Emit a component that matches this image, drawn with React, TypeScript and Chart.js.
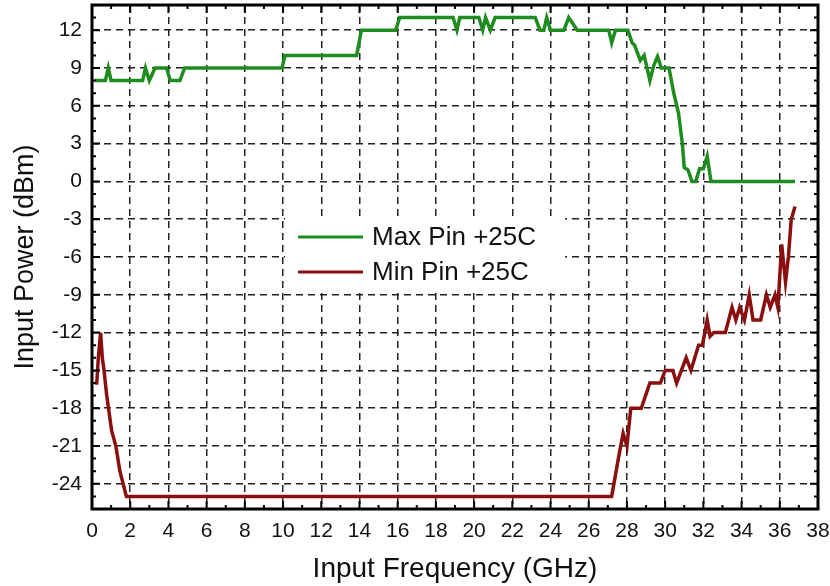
import React, { useEffect, useRef } from "react";
import { Chart, registerables } from "chart.js";

Chart.register(...registerables);

// ---- Data ----
const maxFreq = [
  0.15, 0.7, 0.85, 1.0, 2.65, 2.8, 3.0, 3.3, 3.9, 4.1, 4.6, 4.85, 9.95, 10.1, 13.85, 14.1,
  15.9, 16.1, 18.9, 19.1, 19.25, 20.25, 20.45, 20.6, 20.85, 21.1, 23.2, 23.45, 23.65,
  23.8, 24.0, 24.7, 24.95, 25.4, 27.05, 27.2, 27.4, 28.05, 28.27, 28.4, 28.7, 28.9,
  29.2, 29.4, 29.6, 29.8, 30.2, 30.45, 30.7, 30.9, 31.0, 31.2, 31.4, 31.6, 31.8, 32.0,
  32.2, 32.4, 36.8,
];
const maxPin = [
  8, 8, 9, 8, 8, 9, 8, 9, 9, 8, 8, 9, 9, 10, 10, 12,
  12, 13, 13, 12, 13, 13, 12, 13, 12, 13, 13, 12, 12,
  13, 12, 12, 13, 12, 12, 11, 12, 12, 11, 10.8, 9.6, 10,
  8, 9.2, 9.9, 9, 9, 7, 5.4, 3, 1.1, 0.9, 0, 0, 1, 1,
  2, 0, 0,
];
const minFreq = [
  0.15, 0.25, 0.33, 0.45, 0.54, 0.63, 0.77, 1.03, 1.25, 1.46, 1.8, 27.2, 27.55, 27.8, 28.0,
  28.2, 28.75, 29.2, 29.75, 30.0, 30.4, 30.6, 30.85, 31.1, 31.35, 31.55, 31.75, 31.95,
  32.2, 32.35, 32.55, 33.15, 33.5, 33.7, 33.9, 34.15, 34.4, 34.6, 35.0, 35.3, 35.5,
  35.75, 35.9, 36.1, 36.3, 36.45, 36.6, 36.8,
];
const minPin = [
  -16, -16, -14, -12, -14, -15, -17, -19.8, -21, -23, -25, -25, -22, -20, -21,
  -18, -18, -16, -16, -15, -15, -16, -15, -14, -15, -14, -13, -13,
  -11, -12.3, -12, -12, -10, -11, -10, -11, -9, -11, -11, -9, -10,
  -9, -10, -5, -8, -6, -3, -2,
];
const xTicks = [0, 2, 4, 6, 8, 10, 12, 14, 16, 18, 20, 22, 24, 26, 28, 30, 32, 34, 36, 38];
const yTicks = [-24, -21, -18, -15, -12, -9, -6, -3, 0, 3, 6, 9, 12];
const seriesLabels = ["Max Pin +25C", "Min Pin +25C"];
const seriesColors = ["#1e8c1e", "#8a1010"];
const xTitle = "Input Frequency (GHz)";
const yTitle = "Input Power (dBm)";

const FONT = "'Liberation Sans', Arial, sans-serif";

const framePlugin = {
  id: "frame",
  afterDatasetsDraw(chart: any) {
    const { ctx, chartArea: ca, scales } = chart;
    const xs = scales.x;
    const ys = scales.y;
    ctx.save();
    ctx.strokeStyle = "#000";
    ctx.lineWidth = 2;
    ctx.beginPath();
    for (let v = 0; v <= 38; v++) {
      const px = xs.getPixelForValue(v);
      const len = v % 2 === 0 ? 8 : 4;
      ctx.moveTo(px, ca.bottom);
      ctx.lineTo(px, ca.bottom - len);
      ctx.moveTo(px, ca.top);
      ctx.lineTo(px, ca.top + len);
    }
    for (let v = -26; v <= 14; v++) {
      const py = ys.getPixelForValue(v);
      const len = yTicks.includes(v) ? 8 : 4;
      ctx.moveTo(ca.left, py);
      ctx.lineTo(ca.left + len, py);
      ctx.moveTo(ca.right, py);
      ctx.lineTo(ca.right - len, py);
    }
    ctx.stroke();
    ctx.lineWidth = 3;
    ctx.strokeRect(ca.left, ca.top, ca.right - ca.left, ca.bottom - ca.top);
    ctx.restore();
  },
};

const legendPlugin = {
  id: "innerLegend",
  afterDraw(chart: any) {
    const { ctx, chartArea: ca } = chart;
    const bx = ca.left + 193;
    const by = ca.top + 213;
    ctx.save();
    ctx.fillStyle = "#fff";
    ctx.fillRect(bx, by, 280, 72);
    chart.data.datasets.forEach((ds: any, i: number) => {
      const y = by + 19 + i * 35;
      ctx.strokeStyle = ds.borderColor;
      ctx.lineWidth = 3;
      ctx.beginPath();
      ctx.moveTo(bx + 13, y);
      ctx.lineTo(bx + 78, y);
      ctx.stroke();
      ctx.fillStyle = "#111";
      ctx.font = `26px ${FONT}`;
      ctx.textBaseline = "middle";
      ctx.textAlign = "left";
      ctx.fillText(ds.label, bx + 87, y + 1);
    });
    ctx.restore();
  },
};

export default function App() {
  const ref = useRef<HTMLCanvasElement | null>(null);
  useEffect(() => {
    if (!ref.current) return;
    const chart = new Chart(ref.current, {
      type: "line",
      data: {
        datasets: [
          {
            label: seriesLabels[0],
            data: maxFreq.map((x, i) => ({ x, y: maxPin[i] })),
            borderColor: seriesColors[0],
            backgroundColor: seriesColors[0],
            borderWidth: 3.5,
            pointRadius: 0,
            tension: 0,
          },
          {
            label: seriesLabels[1],
            data: minFreq.map((x, i) => ({ x, y: minPin[i] })),
            borderColor: seriesColors[1],
            backgroundColor: seriesColors[1],
            borderWidth: 3.5,
            pointRadius: 0,
            tension: 0,
          },
        ],
      },
      options: {
        responsive: false,
        animation: false,
        devicePixelRatio: 1,
        layout: { padding: { top: 5, right: 12, left: 0, bottom: 0 } },
        plugins: { legend: { display: false }, tooltip: { enabled: false } },
        scales: {
          x: {
            type: "linear",
            min: 0,
            max: 38,
            afterBuildTicks: (s: any) => {
              s.ticks = xTicks.map((v) => ({ value: v }));
            },
            afterFit: (s: any) => {
              s.height = 77;
              s.paddingLeft = 0;
              s.paddingRight = 0;
            },
            ticks: {
              color: "#111",
              padding: 10,
              maxRotation: 0,
              autoSkip: false,
              font: { family: FONT, size: 21 },
            },
            grid: { color: "#222", lineWidth: 1.5, drawTicks: false, tickLength: 0 },
            border: { display: false, dash: [7, 5] },
            title: {
              display: true,
              text: xTitle,
              color: "#111",
              font: { family: FONT, size: 28 },
              padding: { top: 2, bottom: 0 },
            },
          },
          y: {
            type: "linear",
            min: -26,
            max: 14,
            afterBuildTicks: (s: any) => {
              s.ticks = yTicks.map((v) => ({ value: v }));
            },
            afterFit: (s: any) => {
              s.width = 92;
              s.paddingTop = 0;
              s.paddingBottom = 0;
            },
            ticks: {
              color: "#111",
              padding: 10,
              autoSkip: false,
              font: { family: FONT, size: 21 },
            },
            grid: { color: "#222", lineWidth: 1.5, drawTicks: false, tickLength: 0 },
            border: { display: false, dash: [7, 5] },
            title: {
              display: true,
              text: yTitle,
              color: "#111",
              font: { family: FONT, size: 27 },
              padding: { top: 9, bottom: 2 },
            },
          },
        },
      },
      plugins: [framePlugin, legendPlugin],
    } as any);
    return () => chart.destroy();
  }, []);
  return (
    <div style={{ position: "fixed", left: 0, top: 0, width: 830, height: 586, background: "#fff" }}>
      <canvas ref={ref} width={830} height={586} />
    </div>
  );
}
